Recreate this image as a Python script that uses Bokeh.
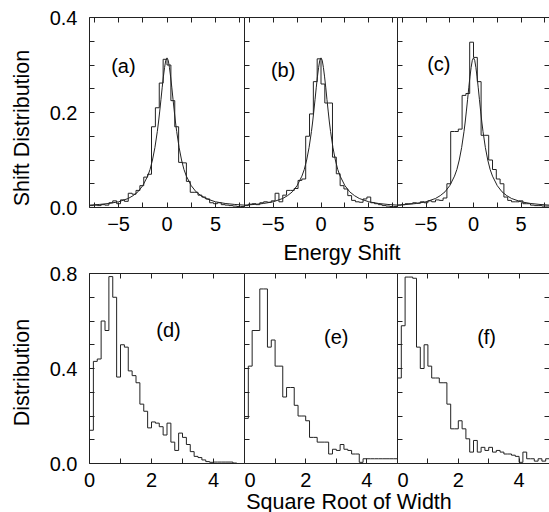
from bokeh.plotting import figure
from bokeh.models import Range1d, LinearAxis, FixedTicker, PrintfTickFormatter
from bokeh.layouts import row, column
from bokeh.embed import file_html
from bokeh.resources import INLINE
from bokeh.core.properties import value

FONT = "Liberation Sans"
INK = "#222222"

# ---------------- data ----------------
# Energy-shift histograms: 40 bins of width 0.4 starting at -8
shift_bin_start = -8.0
shift_bin_width = 0.4
hist_a = [0.004, 0.005, 0.004, 0.006, 0.005, 0.010, 0.014, 0.008, 0.016, 0.013,
          0.030, 0.028, 0.036, 0.046, 0.064, 0.070, 0.170, 0.210, 0.262, 0.312,
          0.300, 0.225, 0.170, 0.095, 0.094, 0.055, 0.032, 0.032, 0.026, 0.022,
          0.018, 0.010, 0.008, 0.010, 0.006, 0.005, 0.004, 0.003, 0.002, 0.002]
hist_b = [0.004, 0.007, 0.008, 0.006, 0.010, 0.012, 0.011, 0.014, 0.030, 0.012,
          0.026, 0.036, 0.036, 0.040, 0.057, 0.060, 0.150, 0.197, 0.265, 0.313,
          0.260, 0.220, 0.220, 0.106, 0.071, 0.046, 0.039, 0.025, 0.015, 0.012,
          0.011, 0.018, 0.022, 0.010, 0.008, 0.006, 0.004, 0.003, 0.002, 0.002]
hist_c = [0.005, 0.006, 0.008, 0.008, 0.010, 0.009, 0.012, 0.010, 0.014, 0.012,
          0.016, 0.015, 0.020, 0.050, 0.160, 0.160, 0.165, 0.236, 0.240, 0.348,
          0.316, 0.265, 0.152, 0.152, 0.100, 0.080, 0.060, 0.050, 0.022, 0.015,
          0.012, 0.012, 0.014, 0.008, 0.008, 0.005, 0.004, 0.004, 0.003, 0.003]
# fitted smooth curve
fit_x = [-8, -7, -6, -5, -4, -3.5, -3, -2.5, -2, -1.75, -1.5, -1.25, -1, -0.875, -0.75,
         -0.625, -0.5, -0.375, -0.25, -0.125, 0, 0.125, 0.25, 0.375, 0.5, 0.625, 0.75,
         0.875, 1, 1.25, 1.5, 1.75, 2, 2.5, 3, 3.5, 4, 5, 6, 7, 8]
fit_y = [0.005, 0.0064, 0.0085, 0.012, 0.019, 0.025, 0.033, 0.046, 0.066, 0.080, 0.100,
         0.126, 0.160, 0.180, 0.203, 0.227, 0.252, 0.275, 0.295, 0.310, 0.315, 0.310,
         0.295, 0.275, 0.252, 0.227, 0.203, 0.180, 0.160, 0.126, 0.100, 0.080, 0.066,
         0.046, 0.033, 0.025, 0.019, 0.012, 0.0085, 0.0064, 0.005]

# Square-root-of-width histograms: 40 bins of width 0.125 starting at 0
width_bin_start = 0.0
width_bin_width = 0.125
hist_d = [0.14, 0.43, 0.44, 0.60, 0.56, 0.787, 0.70, 0.364, 0.50, 0.49,
          0.39, 0.37, 0.34, 0.25, 0.22, 0.15, 0.175, 0.17, 0.155, 0.12,
          0.17, 0.09, 0.055, 0.128, 0.11, 0.08, 0.05, 0.03, 0.025, 0.015,
          0.008, 0.005, 0.006, 0.006, 0.006, 0.006, 0.006, 0.002, 0.0, 0.0]
hist_e = [0.19, 0.41, 0.56, 0.56, 0.735, 0.735, 0.49, 0.52, 0.41, 0.41,
          0.28, 0.32, 0.32, 0.245, 0.20, 0.20, 0.18, 0.11, 0.11, 0.09,
          0.09, 0.09, 0.04, 0.06, 0.055, 0.08, 0.06, 0.055, 0.04, 0.04,
          0.005, 0.02, 0.02, 0.02, 0.02, 0.02, 0.02, 0.02, 0.02, 0.02]
hist_f = [0.36, 0.58, 0.785, 0.785, 0.78, 0.49, 0.40, 0.50, 0.41, 0.36,
          0.36, 0.34, 0.34, 0.25, 0.146, 0.146, 0.18, 0.146, 0.104, 0.048,
          0.097, 0.048, 0.068, 0.055, 0.068, 0.048, 0.055, 0.048, 0.040, 0.040,
          0.035, 0.030, 0.005, 0.048, 0.02, 0.02, 0.01, 0.02, 0.01, 0.02]

panel_labels_top = ["(a)", "(b)", "(c)"]
panel_labels_bottom = ["(d)", "(e)", "(f)"]

shift_major = [-5, 0, 5]
shift_minor = [-7.5, -2.5, 2.5, 7.5]
shift_tick_labels = {-5: "\u22125", 0: "0", 5: "5"}
shift_y_major = [0.0, 0.2, 0.4]
shift_y_minor = [0.05, 0.1, 0.15, 0.25, 0.3, 0.35]

width_major = [0, 2, 4]
width_minor = [1, 3, 5]
width_tick_labels = {0: "0", 2: "2", 4: "4"}
width_y_major = [0.0, 0.4, 0.8]
width_y_minor = [0.1, 0.2, 0.3, 0.5, 0.6, 0.7]

# ---------------- helpers ----------------
def style_axis(ax):
    ax.axis_line_color = INK
    ax.major_tick_line_color = INK
    ax.minor_tick_line_color = INK
    ax.major_tick_in = 5
    ax.major_tick_out = 0
    ax.minor_tick_in = 5
    ax.minor_tick_out = 0
    ax.major_label_text_font = FONT
    ax.major_label_text_font_size = "20px"
    ax.major_label_text_color = "black"


def make_panel(xr, yr, frame_w, left_border, top_border, bottom_border,
               xmaj, xmin, xlabels, ymaj, ymin, first, last):
    p = figure(frame_width=frame_w, frame_height=190,
               x_range=Range1d(*xr), y_range=Range1d(*yr),
               toolbar_location=None, output_backend="svg",
               x_axis_location=None, y_axis_location=None,
               min_border_left=left_border, min_border_right=0,
               min_border_top=top_border, min_border_bottom=bottom_border)
    p.xgrid.visible = False
    p.ygrid.visible = False
    p.outline_line_color = None
    p.background_fill_color = "white"
    p.border_fill_color = "white"

    bottom = LinearAxis(ticker=FixedTicker(ticks=xmaj, minor_ticks=xmin),
                        major_label_overrides=xlabels)
    style_axis(bottom)
    bottom.major_label_standoff = 9
    p.add_layout(bottom, "below")

    top = LinearAxis(ticker=FixedTicker(ticks=[], minor_ticks=sorted(xmaj + xmin)))
    style_axis(top)
    p.add_layout(top, "above")

    if first:
        left = LinearAxis(ticker=FixedTicker(ticks=ymaj, minor_ticks=ymin),
                          formatter=PrintfTickFormatter(format="%.1f"))
        style_axis(left)
        left.major_label_standoff = 12
    else:
        left = LinearAxis(ticker=FixedTicker(ticks=[], minor_ticks=sorted(ymaj + ymin)))
        style_axis(left)
    p.add_layout(left, "left")

    if last:
        right = LinearAxis(ticker=FixedTicker(ticks=[], minor_ticks=sorted(ymaj + ymin)))
        style_axis(right)
        p.add_layout(right, "right")
    return p


def add_hist(p, start, width, vals):
    edges = [start + width * i for i in range(len(vals) + 1)]
    xs = [edges[0]] + edges
    ys = [0.0] + list(vals) + [vals[-1]]
    p.step(xs, ys, mode="after", line_color=INK, line_width=1)


def add_label(p, x, y, txt):
    p.text(x=[x], y=[y], text=[txt], text_font=value(FONT), text_font_size="20px",
           text_align="center", text_baseline="middle", text_color="black")


def make_strip(w, h):
    s = figure(frame_width=w, frame_height=h, x_range=Range1d(0, w), y_range=Range1d(0, h),
               toolbar_location=None, output_backend="svg",
               x_axis_location=None, y_axis_location=None, min_border=0)
    s.xgrid.visible = False
    s.ygrid.visible = False
    s.outline_line_color = None
    s.background_fill_color = "white"
    s.border_fill_color = "white"
    return s

# ---------------- top row ----------------
frame_widths = [155, 153, 152]
top_hists = [hist_a, hist_b, hist_c]
top_label_pos = [(-4.5, 0.297), (-3.96, 0.29), (-3.65, 0.303)]
top_panels = []
for i in range(3):
    p = make_panel((-8, 8), (0, 0.4), frame_widths[i], 53 if i == 0 else 0, 17, 33,
                   shift_major, shift_minor, shift_tick_labels,
                   shift_y_major, shift_y_minor, i == 0, i == 2)
    add_hist(p, shift_bin_start, shift_bin_width, top_hists[i])
    p.line(fit_x, fit_y, line_color=INK, line_width=1)
    add_label(p, top_label_pos[i][0], top_label_pos[i][1], panel_labels_top[i])
    top_panels.append(p)

# ---------------- bottom row ----------------
bottom_hists = [hist_d, hist_e, hist_f]
bottom_label_pos = [(2.55, 0.564), (3.0, 0.533), (2.93, 0.533)]
bottom_panels = []
for i in range(3):
    if i == 0:
        tb, bb = 33, 49      # (d) reaches up beside the "Energy Shift" strip
    else:
        tb, bb = 7, 28
    p = make_panel((0, 5), (0, 0.8), frame_widths[i], 53 if i == 0 else 0, tb, bb,
                   width_major, width_minor, width_tick_labels,
                   width_y_major, width_y_minor, i == 0, i == 2)
    add_hist(p, width_bin_start, width_bin_width, bottom_hists[i])
    add_label(p, bottom_label_pos[i][0], bottom_label_pos[i][1], panel_labels_bottom[i])
    bottom_panels.append(p)

# ---------------- title strips ----------------
strip1 = make_strip(305, 26)
strip1.text(x=[97.5], y=[13.5], text=["Energy Shift"], text_font=value(FONT),
            text_font_size="21.5px", text_align="center", text_baseline="middle",
            text_color="black")
strip2 = make_strip(305, 21)
strip2.text(x=[104.5], y=[11], text=["Square Root of Width"], text_font=value(FONT),
            text_font_size="21.5px", text_align="center", text_baseline="middle",
            text_color="black")

left_strip = make_strip(36, 512)
left_strip.text(x=[21.5, 21.5], y=[512 - 127.5, 512 - 372],
                text=["Shift Distribution", "Distribution"], angle=1.5707963,
                text_font=value(FONT), text_font_size="21.5px", text_align="center",
                text_baseline="middle", text_color="black")

layout = row(left_strip,
             column(row(*top_panels),
                    row(bottom_panels[0],
                        column(strip1, row(bottom_panels[1], bottom_panels[2]), strip2))))

open("out.html", "w").write(file_html(layout, INLINE))
